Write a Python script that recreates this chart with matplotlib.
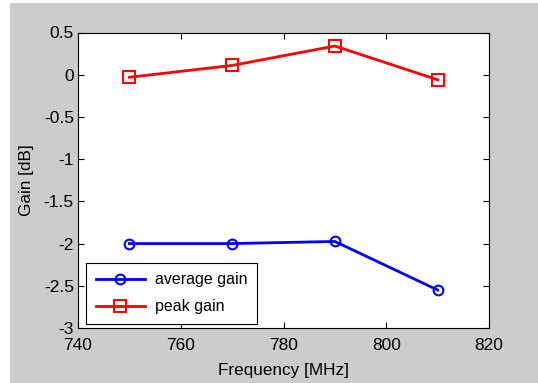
import matplotlib.pyplot as plt
from matplotlib.patches import Rectangle

freq = [750, 770, 790, 810]
avg_gain = [-2.0, -2.0, -1.975, -2.55]
peak_gain = [-0.03, 0.11, 0.34, -0.06]

plt.rcParams['font.family'] = ['Liberation Sans', 'DejaVu Sans']
plt.rcParams['font.size'] = 12

fig = plt.figure(figsize=(5.38, 3.83), dpi=100, facecolor='white')
# grey MATLAB-style figure background (small white strip left/top)
fig.patches.append(Rectangle((10 / 538, 0), 1 - 10 / 538, 1 - 3 / 383,
                             transform=fig.transFigure, facecolor='#cccccc',
                             edgecolor='none', zorder=-10))

ax = fig.add_axes([78 / 538, 55 / 383, 411 / 538, 295.5 / 383])
ax.plot(freq, avg_gain, '-o', color='blue', lw=2, ms=7, mfc='none', mew=1.5,
        label='average gain')
ax.plot(freq, peak_gain, '-s', color='red', lw=2, ms=8, mfc='none', mew=1.5,
        label='peak gain')

ax.set_xlim(740, 820)
ax.set_ylim(-3, 0.5)
ax.set_xticks([740, 760, 780, 800, 820])
ax.set_yticks([-3, -2.5, -2, -1.5, -1, -0.5, 0, 0.5])
ax.set_yticklabels(['-3', '-2.5', '-2', '-1.5', '-1', '-0.5', '0', '0.5'])
ax.tick_params(direction='in', top=True, right=True, length=4, width=0.8,
               colors='black', labelsize=12.5)
ax.tick_params(axis='x', pad=7.5)
ax.tick_params(axis='y', pad=3)
for s in ax.spines.values():
    s.set_linewidth(0.8)
ax.set_xlabel('Frequency [MHz]', fontsize=12.3, labelpad=7)
ax.set_ylabel('Gain [dB]', fontsize=12.3, labelpad=7)

leg = ax.legend(loc='lower left', bbox_to_anchor=(8 / 411, 4 / 295.5),
                borderaxespad=0, fancybox=False, edgecolor='black',
                framealpha=1, handlelength=3.1, handletextpad=0.6,
                fontsize=11.5, labelspacing=0.75, borderpad=0.6)
leg.get_frame().set_linewidth(0.8)

fig.savefig('out.png', dpi=100, facecolor=fig.get_facecolor())
